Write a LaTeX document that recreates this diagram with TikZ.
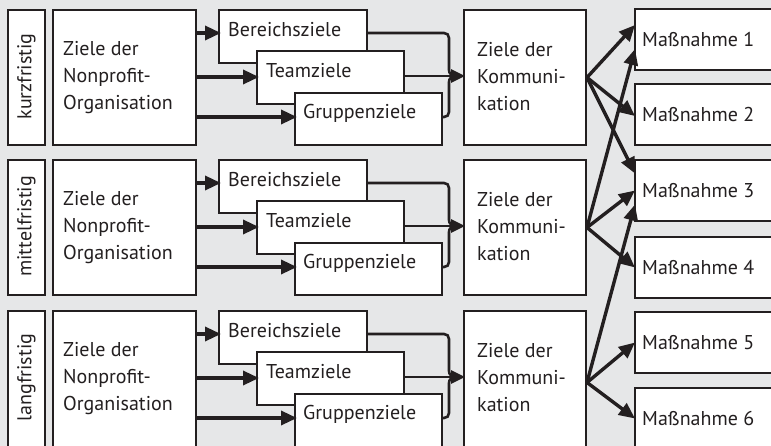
\documentclass[tikz,border=0pt]{standalone}
\usepackage{fontspec}
\setmainfont{PT Sans}
\usetikzlibrary{arrows.meta,calc}
\definecolor{bg}{RGB}{230,231,232}
\definecolor{ink}{RGB}{35,31,32}
\begin{document}
\begin{tikzpicture}[x=1pt,y=-1pt,
  box/.style={draw=ink,fill=white,line width=2pt,inner sep=0pt,anchor=north west},
  txt/.style={inner sep=0pt,text=ink,font=\fontsize{20}{27}\selectfont,align=left},
  arr/.style={draw=ink,line width=3.4pt,-{Triangle[length=16pt,width=14pt]}},
  brc/.style={draw=ink,line width=2.6pt},
  brcarr/.style={draw=ink,line width=2.6pt,-{Triangle[length=14pt,width=13pt]}},
]
\useasboundingbox (0,0) rectangle (771,446);
\fill[bg] (0,0) rectangle (771,446);
\clip (0,0) rectangle (771,446);

\foreach \r/\lab/\dy/\ex in {1/kurzfristig/9/0, 2/mittelfristig/159/0, 3/langfristig/310/8} {
  \node[box,minimum width=37pt,minimum height=135pt+\ex pt] (lab\r) at (7,\dy) {};
  \node[txt,rotate=90] (labt\r) at ($(lab\r.north)+(0,67.5)$) {\lab};
  \node[box,minimum width=143pt,minimum height=135pt+\ex pt] (npo\r) at (52,\dy) {};
  \node[txt,anchor=west] (npot\r) at ($(npo\r.north west)+(11,69)$) {Ziele der\\Nonprofit-\\Organisation};
  \node[box,minimum width=148pt,minimum height=53pt] (ber\r) at (218,\dy) {};
  \node[txt,anchor=west] (bert\r) at ($(ber\r.north west)+(10,21)$) {Bereichsziele};
  \node[box,minimum width=147pt,minimum height=53pt] (team\r) at (256,\dy+41) {};
  \node[txt,anchor=west] (teamt\r) at ($(team\r.north west)+(10,21)$) {Teamziele};
  \node[box,minimum width=147pt,minimum height=52pt+\ex pt] (grp\r) at (294,\dy+83) {};
  \node[txt,anchor=west] (grpt\r) at ($(grp\r.north west)+(9,21)$) {Gruppenziele};
  \node[box,minimum width=122pt,minimum height=135pt+\ex pt] (kom\r) at (463,\dy) {};
  \node[txt,anchor=west] (komt\r) at ($(kom\r.north west)+(14,68)$) {Ziele der\\Kommuni-\\kation};
  % arrows from NPO
  \coordinate (a1) at ($(npo\r.north east)+(0,24)$);
  \coordinate (a2) at ($(npo\r.north east)+(0,68)$);
  \coordinate (a3) at ($(npo\r.north east)+(0,108)$);
  \draw[arr] (a1) -- ($(a1 -| ber\r.west)+(3,0)$);
  \draw[arr] (a2) -- ($(a2 -| team\r.west)+(3,0)$);
  \draw[arr] (a3) -- ($(a3 -| grp\r.west)+(3,0)$);
  % brace
  \coordinate (bt) at ($(ber\r.north east)+(0,24)$);
  \coordinate (bm) at ($(team\r.north east)+(0,26)$);
  \coordinate (bb) at ($(grp\r.north east)+(0,25)$);
  \draw[brc] (bt) -- (444,\dy+24) .. controls (447,\dy+24) and (449,\dy+26) .. (449,\dy+29)
     -- (449,\dy+61) .. controls (449,\dy+65) and (452,\dy+67) .. (456,\dy+67);
  \draw[brc] (bb) -- (444,\dy+108) .. controls (447,\dy+108) and (449,\dy+106) .. (449,\dy+103)
     -- (449,\dy+73) .. controls (449,\dy+69) and (452,\dy+67) .. (456,\dy+67);
  \draw[brcarr] (bm) -- ($(bm -| kom\r.west)+(2,0)$);
}

\foreach \i/\t in {1/8,2/83,3/159,4/236,5/311,6/387} {
  \node[box,minimum width=160pt,minimum height=61pt] (m\i) at (634,\t) {};
  \node[txt,anchor=west] (mt\i) at ($(m\i.west)+(8,0)$) {Maßnahme \i};
}

\draw[arr] (kom1.east) -- ($(m1.west)+(1,-14.5)$);
\draw[arr] (kom1.east) -- ($(m2.west)+(1,1.5)$);
\draw[arr] (kom1.east) -- ($(m3.west)+(1,-17)$);
\draw[arr] (kom2.east) -- ($(m1.west)+(1,9.5)$);
\draw[arr] (kom2.east) -- ($(m3.west)+(1,0)$);
\draw[arr] (kom2.east) -- ($(m4.west)+(1,0)$);
\draw[arr] (kom3.east) -- ($(m3.west)+(1,14)$);
\draw[arr] (kom3.east) -- ($(m5.west)+(1,0)$);
\draw[arr] (kom3.east) -- ($(m6.west)+(1,0)$);
\end{tikzpicture}
\end{document}
